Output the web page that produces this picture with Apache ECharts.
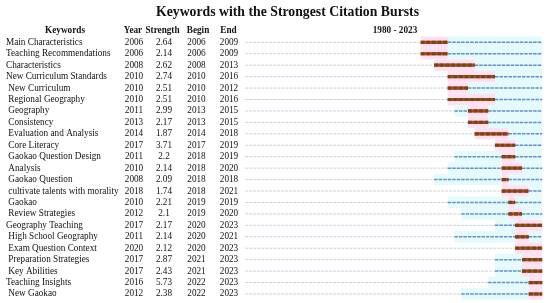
<!DOCTYPE html>
<html><head><meta charset="utf-8">
<script src="https://cdn.jsdelivr.net/npm/echarts@6/dist/echarts.min.js"></script>
<style>html,body{margin:0;padding:0;background:#fff}#c{width:550px;height:303px}</style>
</head><body><div id="c"></div>
<script>
const keywords = ["Main Characteristics","Teaching Recommendations","Characteristics","New Curriculum Standards"," New Curriculum"," Regional Geography"," Geography"," Consistency"," Evaluation and Analysis"," Core Literacy"," Gaokao Question Design"," Analysis"," Gaokao Question"," cultivate talents with morality"," Gaokao"," Review Strategies","Geography Teaching"," High School Geography"," Exam Question Context"," Preparation Strategies"," Key Abilities","Teaching Insights"," New Gaokao"];
const years = [2006,2006,2008,2010,2010,2010,2011,2013,2014,2017,2011,2010,2008,2018,2010,2012,2017,2011,2020,2017,2017,2016,2012];
const strengths = ["2.64","2.14","2.62","2.74","2.51","2.51","2.99","2.17","1.87","3.71","2.2","2.14","2.09","1.74","2.21","2.1","2.17","2.14","2.12","2.87","2.43","5.73","2.38"];
const begins = [2006,2006,2008,2010,2010,2010,2013,2013,2014,2017,2018,2018,2018,2018,2019,2019,2020,2020,2020,2021,2021,2022,2022];
const ends = [2009,2009,2013,2016,2012,2016,2015,2015,2018,2019,2019,2020,2018,2021,2019,2020,2023,2021,2023,2023,2023,2023,2023];
const headers = ["Keywords","Year","Strength","Begin","End"];
const titleText = "Keywords with the Strongest Citation Bursts";
const firstYear = 1980, lastYear = 2023;

const FONT = '"Liberation Serif","Times New Roman",serif';
const FS = 9.5;
const SX = 0.97;
const chart = echarts.init(document.getElementById('c'), null, {renderer:'canvas'});
const idx = keywords.map((k,i)=>i);

function seg(api, a, b, i, style){
  const p1 = api.coord([a, i]), p2 = api.coord([b, i]);
  return {type:'line', shape:{x1:p1[0], y1:p1[1], x2:p2[0], y2:p2[1]}, style: style};
}
function band(api, a, b, i, fill){
  const p1 = api.coord([a, i]), p2 = api.coord([b, i]);
  const h = api.size([0,1])[1];
  return {type:'rect', shape:{x:p1[0], y:p1[1]-h/2, width:p2[0]-p1[0], height:h}, style:{fill:fill}};
}
function hdr(t, x){
  return {type:'text', x:x, y:30.5, scaleX:SX, style:{text:t, fontFamily:FONT, fontWeight:'bold', fontSize:FS, fill:'#111', align:'center', verticalAlign:'middle'}};
}

const option = {
  animation:false,
  grid:{left:245.2, width:297, top:36.6, height:263.1},
  xAxis:{type:'value', min:firstYear, max:lastYear+1, show:false},
  yAxis:{type:'category', data:keywords, inverse:true, show:false},
  series:[
    {type:'custom', data:idx, renderItem:function(params, api){
      const i = api.value(0);
      const y0 = years[i], b = begins[i], e = ends[i]+1;
      const ch = [];
      if (b > y0) ch.push(band(api, y0, b, i, '#e4fafd'));
      if (lastYear+1 > e) ch.push(band(api, e, lastYear+1, i, '#e4fafd'));
      ch.push(band(api, b, e, i, '#fde0f1'));
      ch.push(seg(api, firstYear, y0, i, {stroke:'#c9d2dc', lineWidth:1, lineDash:[3,1]}));
      if (b > y0) ch.push(seg(api, y0, b, i, {stroke:'#6390c4', lineWidth:1.5, lineDash:[3.5,1]}));
      if (lastYear+1 > e) ch.push(seg(api, e, lastYear+1, i, {stroke:'#6390c4', lineWidth:1.5, lineDash:[3.5,1]}));
      ch.push(seg(api, b, e, i, {stroke:'#cf3c22', lineWidth:3.2}));
      ch.push(seg(api, b, e, i, {stroke:'#6f4a15', lineWidth:3.2, lineDash:[4,1.6]}));
      return {type:'group', children:ch};
    }},
    {type:'custom', data:idx, renderItem:function(params, api){
      const i = api.value(0);
      const y = api.coord([firstYear, i])[1];
      const ts = (t, x, align)=>({type:'text', x:x, y:y, scaleX:SX, style:{text:t, fontFamily:FONT, fontSize:FS, fill:'#111', align:align, verticalAlign:'middle'}});
      return {type:'group', children:[
        ts(keywords[i].replace(/^ /,'\u00a0'), 6, 'left'),
        ts(String(years[i]), 134, 'center'),
        ts(strengths[i], 164, 'center'),
        ts(String(begins[i]), 196.5, 'center'),
        ts(String(ends[i]), 229, 'center')
      ]};
    }}
  ],
  graphic:[
    {type:'text', x:287.5, y:12, scaleX:0.93, style:{text:titleText, fontFamily:FONT, fontWeight:'bold', fontSize:14.8, fill:'#111', align:'center', verticalAlign:'middle'}},
    hdr(headers[0], 65),
    hdr(headers[1], 133),
    hdr(headers[2], 162.5),
    hdr(headers[3], 198),
    hdr(headers[4], 228.5),
    hdr(firstYear+' - '+lastYear, 395)
  ]
};
chart.setOption(option);
</script></body></html>
